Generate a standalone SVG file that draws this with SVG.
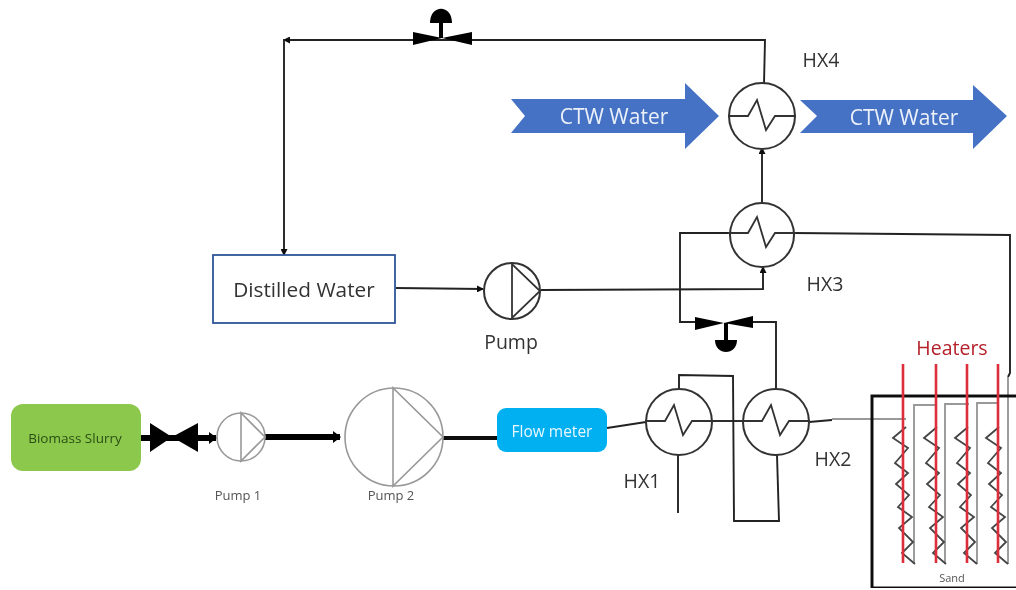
<svg xmlns="http://www.w3.org/2000/svg" xmlns:xlink="http://www.w3.org/1999/xlink" width="1016" height="590" viewBox="0 0 1016 590">
<style>
text{font-family:"Open Sans","Liberation Sans",sans-serif;text-anchor:middle;dominant-baseline:central}
.l{fill:none;stroke:#222;stroke-width:1.9;stroke-linejoin:miter}
.g{fill:none;stroke:#999;stroke-width:1.9}
.k{fill:#fff;stroke:#333;stroke-width:2}
.z{fill:none;stroke:#333;stroke-width:1.8}
.p{fill:none;stroke:#999;stroke-width:1.6}
.h{stroke:#dd2f3b;stroke-width:2.6;fill:none}
.c{fill:#4472c4}
.w{fill:#fff;font-size:21px;fill-opacity:.9}
.lab{fill:#333;font-size:19.5px}
.sm{fill:#555;font-size:13px}
</style>
<defs>
<filter id="soft" x="0" y="0" width="100%" height="100%"><feGaussianBlur stdDeviation="0.45"/></filter>
<marker id="a" markerWidth="7" markerHeight="7" refX="6" refY="3.5" orient="auto" markerUnits="userSpaceOnUse"><path d="M0 0L7 3.5L0 7z" fill="#111"/></marker>
<marker id="t" markerWidth="8" markerHeight="12" refX="7" refY="6" orient="auto" markerUnits="userSpaceOnUse"><path d="M0 0L8 6L0 12z" fill="#000"/></marker>
<polyline id="coil" points="906,427 893,438 908,448 895,463 908,473 896,484 909,495 898,507 912,517 899,528 913,542 902,553 915,564" fill="none" stroke="#444" stroke-width="1.8"/>
<path id="zig" d="M-34 0H-14L-5-16L4 14L13 0H34" class="z"/>
</defs>
<g filter="url(#soft)">
<g id="connectors">
<path class="l" d="M764 84L765 40H284" marker-end="url(#a)"/>
<path class="l" d="M284 39V255" marker-end="url(#a)"/>
<path class="l" d="M762 203V148" marker-end="url(#a)"/>
<path class="l" d="M396 288L483 289" marker-end="url(#a)"/>
<path class="l" d="M541 290L763 289V267" marker-end="url(#a)"/>
<path class="l" d="M730 233H680V322H697"/>
<path class="l" d="M753 322H776V390"/>
<path class="l" d="M794 233L1010 235V373L1008 377"/>
<path class="l" d="M679 389V375L733 376L734 521H779L777 455"/>
<path class="l" d="M678 455V513"/>
<path class="l" d="M607 428L646 422"/>
<path class="l" d="M712 421H743"/>
<path class="l" d="M809 422L832 420"/>
<path class="g" d="M832 419H906"/>
<path class="g" d="M914 564V405H936M945 564V404H969M977 564V403H998M1008 377V564"/>
<path d="M141 438H216" stroke="#000" stroke-width="6" fill="none" marker-end="url(#t)"/>
<path d="M265 437H340" stroke="#000" stroke-width="6" fill="none" marker-end="url(#t)"/>
<path d="M443 438H497" stroke="#111" stroke-width="4" fill="none"/>
</g>
<g id="valve-top"><path d="M413 32L442 38L413 45zM472 32L442 38L472 45z" fill="#000"/><path d="M441 38V23" stroke="#000" stroke-width="4"/><path d="M430 23C430 4 452 4 452 23z" fill="#000"/></g>
<g id="valve-mid"><path d="M695 317L724 323L695 330zM753 316L724 323L753 328z" fill="#000"/><path d="M726 323V341" stroke="#000" stroke-width="4"/><path d="M715 340C715 356 737 356 737 340z" fill="#000"/></g>
<g id="valve-biomass"><path d="M150 423L172 437L150 452zM198 423L172 437L198 452z" fill="#000"/></g>
<g id="ctw-left"><path class="c" d="M511 99H685V83L719 116L685 149V133H511L525 116z"/><text class="w" x="614" y="116">CTW Water</text></g>
<g id="ctw-right"><path class="c" d="M800 100H973V85L1007 116L973 149V133H800L817 116z"/><text class="w" x="904" y="117">CTW Water</text></g>
<g id="hx4"><circle class="k" cx="762" cy="116" r="33"/><use xlink:href="#zig" href="#zig" x="762" y="116"/><text class="lab" x="821" y="59">HX4</text></g>
<g id="hx3"><circle class="k" cx="762" cy="235" r="32"/><use xlink:href="#zig" href="#zig" x="762" y="233"/><text class="lab" x="825" y="283">HX3</text></g>
<g id="hx1"><circle class="k" cx="679" cy="422" r="33"/><use xlink:href="#zig" href="#zig" x="679" y="421"/><text class="lab" x="642" y="480">HX1</text></g>
<g id="hx2"><circle class="k" cx="776" cy="422" r="33"/><use xlink:href="#zig" href="#zig" x="776" y="421"/><text class="lab" x="833" y="458">HX2</text></g>
<g id="distilled-water"><rect x="213" y="255" width="182" height="68" fill="#fff" stroke="#2f5597" stroke-width="1.8"/><text x="304" y="289" font-size="20.8" fill="#333">Distilled Water</text></g>
<g id="pump"><circle class="k" cx="512" cy="291" r="28"/><path class="z" d="M512 264V318L540 291z"/><text class="lab" x="511" y="341">Pump</text></g>
<g id="biomass-slurry"><rect x="11" y="404" width="130" height="67" rx="12" fill="#8cc84b"/><text x="75" y="438" font-size="13.5" fill="#2a4d14">Biomass Slurry</text></g>
<g id="pump-1"><circle cx="241" cy="437" r="24" fill="#fff" class="p"/><path class="p" d="M241 413V461L265 437z"/><text class="sm" x="238" y="495">Pump 1</text></g>
<g id="pump-2"><circle cx="394" cy="437" r="49" fill="#fff" class="p"/><path class="p" d="M393 388V486L443 437z"/><text class="sm" x="391" y="495">Pump 2</text></g>
<g id="flow-meter"><rect x="497" y="408" width="110" height="44" rx="9" fill="#00b0f0"/><text x="552" y="431" font-size="15.5" fill="#e8f7ff">Flow meter</text></g>
<g id="sand-bed">
<path d="M1016 396H872V588H1016" fill="none" stroke="#111" stroke-width="3"/>
<use xlink:href="#coil" href="#coil"/><use xlink:href="#coil" href="#coil" x="31"/><use xlink:href="#coil" href="#coil" x="62"/><use xlink:href="#coil" href="#coil" x="93"/>
<text x="952" y="577" font-size="11" fill="#555">Sand</text>
</g>
<g id="heaters">
<path class="h" d="M903 364V563M936 364V563M967 364V563M998 364V563"/>
<text x="952" y="347" font-size="19.5" fill="#b5202c">Heaters</text>
</g>
</g>
</svg>
